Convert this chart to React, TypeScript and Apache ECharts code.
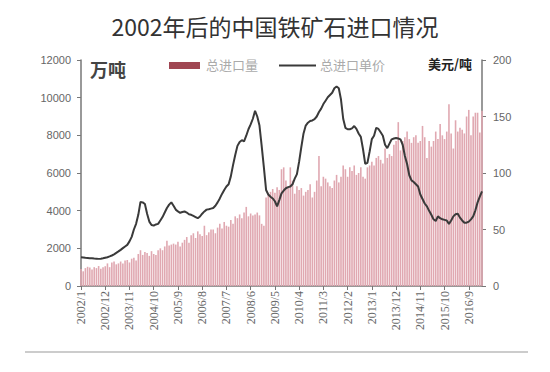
import React, { useEffect, useRef } from "react";
import * as echarts from "echarts";

const startYear = 2002;
const endYear = 2017;
const endMonth = 3;
const categories: string[] = [];
for (let y = startYear; y <= endYear; y++) {
  for (let m = 1; m <= 12; m++) {
    if (y === endYear && m > endMonth) break;
    categories.push(`${y}/${m}`);
  }
}

// 总进口量 (万吨), monthly 2002/1 - 2017/3
const imports2002 = [900, 780, 950, 1020, 980, 880, 1000, 950, 1060, 920, 1000, 1050];
const imports2003 = [1200, 1000, 1250, 1300, 1150, 1200, 1300, 1200, 1350, 1380, 1250, 1450];
const imports2004 = [1500, 1350, 1700, 1900, 1650, 1800, 1750, 1600, 1850, 1700, 1650, 1900];
const imports2005 = [2000, 1900, 2100, 2400, 2150, 2200, 2250, 2200, 2350, 2100, 2300, 2450];
const imports2006 = [2600, 2300, 2700, 2800, 2550, 2900, 2750, 2650, 3200, 2700, 2850, 3000];
const imports2007 = [3000, 2800, 3100, 3300, 3050, 3400, 3200, 3150, 3500, 3300, 3700, 3600];
const imports2008 = [3800, 3600, 3900, 4200, 3700, 3850, 3750, 3800, 3900, 3750, 3300, 3200];
const imports2009 = [4700, 4900, 5000, 5150, 4950, 5250, 5100, 6200, 6300, 5600, 5200, 6300];
const imports2010 = [5600, 4900, 5300, 5100, 5200, 4800, 5000, 5100, 5400, 4700, 5000, 5600];
const imports2011 = [6900, 5300, 5800, 5700, 5500, 5300, 5200, 5600, 5900, 5500, 5800, 6400];
const imports2012 = [6200, 5800, 6300, 6100, 6400, 5900, 6000, 6300, 5800, 5700, 6300, 6400];
const imports2013 = [6600, 6400, 6800, 6900, 6700, 6500, 7300, 6800, 7000, 6900, 7500, 7700];
const imports2014 = [8700, 7200, 7700, 7900, 8200, 7800, 7600, 7900, 8000, 7600, 7700, 8500];
const imports2015 = [7900, 6800, 7700, 7400, 7700, 8200, 7800, 8600, 8000, 7800, 8200, 9650];
const imports2016 = [8100, 7300, 8800, 8200, 8400, 8300, 8100, 9000, 9350, 8000, 9000, 9200];
const imports2017 = [9200, 8150, 9300];

// 总进口单价 (美元/吨)
const price2002 = [25.5, 25.3, 25, 24.8, 24.6, 24.5, 24.3, 24.2, 24, 24.2, 24.5, 25];
const price2003 = [25.5, 26.2, 27, 28, 29.3, 30.6, 32, 33.5, 35, 36.4, 39.5, 43.5];
const price2004 = [50, 55, 63, 74.4, 74, 72.5, 64, 57, 54, 53.5, 54.5, 55];
const price2005 = [58, 61, 65, 69, 72, 74, 71, 67.6, 66, 64.8, 65.5, 66];
const price2006 = [65, 63.5, 63, 62, 61, 60, 61.5, 64, 66, 67.6, 68, 68.5];
const price2007 = [69, 71, 74, 77.5, 81.5, 85, 88, 90, 97, 107, 116, 124];
const price2008 = [127.5, 129, 128, 133, 138.7, 143, 148, 155, 150, 142, 124, 105];
const price2009 = [85, 81, 79, 77.5, 75, 70.5, 76, 82, 84.5, 86.5, 87.5, 88];
const price2010 = [90, 95, 99, 110, 123, 135, 142, 144.5, 146, 146.5, 147.6, 150];
const price2011 = [154, 157, 161, 164, 167, 169, 171, 175, 176.6, 175, 165, 148];
const price2012 = [140, 138.7, 138.7, 139.5, 141.6, 139, 135, 132, 121, 108, 109, 119];
const price2013 = [130, 133, 140, 139, 136, 133, 125, 122, 126, 129.8, 130.5, 131];
const price2014 = [130.5, 129.8, 125, 115, 108, 98, 93.5, 92, 90, 88, 81, 77];
const price2015 = [73, 70.5, 66.5, 63, 59, 57.5, 61.6, 60, 59, 58.5, 58, 55];
const price2016 = [58, 61.6, 63.5, 64, 60.5, 58, 56, 56, 57, 59, 61.6, 67];
const price2017 = [74, 79, 83.8];

const importVolume = [
  ...imports2002, ...imports2003, ...imports2004, ...imports2005, ...imports2006,
  ...imports2007, ...imports2008, ...imports2009, ...imports2010, ...imports2011,
  ...imports2012, ...imports2013, ...imports2014, ...imports2015, ...imports2016,
  ...imports2017,
];
const importPrice = [
  ...price2002, ...price2003, ...price2004, ...price2005, ...price2006,
  ...price2007, ...price2008, ...price2009, ...price2010, ...price2011,
  ...price2012, ...price2013, ...price2014, ...price2015, ...price2016,
  ...price2017,
];

const leftTicks = { min: 0, max: 12000, interval: 2000 };
const rightTicks = { min: 0, max: 200, interval: 50 };
const seriesNames = ["总进口量", "总进口单价"];

export default function App() {
  const ref = useRef<HTMLDivElement>(null);
  useEffect(() => {
    if (!ref.current) return;
    const chart = echarts.init(ref.current, undefined, { renderer: "svg" });
    const axisColor = "#777";
    const barColor = "#e0a8b1";
    const lineColor = "#3a3a3a";
    chart.setOption({
      animation: false,
      backgroundColor: "#fff",
      title: {
        text: "2002年后的中国铁矿石进口情况",
        left: "center",
        top: 9,
        textStyle: {
          fontFamily: "Noto Sans CJK SC",
          fontSize: 23,
          fontWeight: "normal",
          color: "#333",
        },
      },
      grid: { left: 81, right: 68, top: 60, bottom: 86 },
      xAxis: {
        type: "category",
        data: categories,
        boundaryGap: false,
        axisLine: { lineStyle: { color: axisColor, width: 1.5 } },
        axisTick: { interval: 10, length: 4, lineStyle: { color: axisColor } },
        axisLabel: {
          interval: 10,
          rotate: 90,
          color: "#666",
          fontSize: 12,
          fontFamily: "Liberation Serif",
          margin: 5,
        },
        splitLine: { show: false },
      },
      yAxis: [
        {
          type: "value",
          ...leftTicks,
          axisLine: { show: true, lineStyle: { color: axisColor, width: 1.5 } },
          axisTick: { show: true, length: 4, lineStyle: { color: axisColor } },
          axisLabel: {
            color: "#666",
            fontSize: 11,
            fontFamily: "Liberation Sans",
            margin: 10,
            formatter: (v: number) => String(v),
          },
          splitLine: { show: false },
        },
        {
          type: "value",
          ...rightTicks,
          position: "right",
          axisLine: { show: true, lineStyle: { color: axisColor, width: 1.5 } },
          axisTick: { show: true, length: 4, lineStyle: { color: axisColor } },
          axisLabel: {
            color: "#666",
            fontSize: 11,
            fontFamily: "Liberation Sans",
            margin: 11,
            formatter: (v: number) => String(v),
          },
          splitLine: { show: false },
        },
      ],
      series: [
        {
          name: seriesNames[0],
          type: "bar",
          yAxisIndex: 0,
          data: importVolume,
          barWidth: 1.6,
          itemStyle: { color: barColor },
        },
        {
          name: seriesNames[1],
          type: "line",
          yAxisIndex: 1,
          data: importPrice,
          symbol: "none",
          lineStyle: { color: lineColor, width: 2 },
          itemStyle: { color: lineColor },
        },
      ],
      graphic: [
        {
          type: "text",
          left: 90,
          top: 60,
          style: {
            text: "万吨",
            fill: "#444",
            font: "bold 18px 'Noto Sans CJK SC'",
          },
        },
        {
          type: "rect",
          shape: { x: 169, y: 62, width: 31, height: 7 },
          style: { fill: "#a04652" },
        },
        {
          type: "text",
          left: 206,
          top: 58,
          style: {
            text: seriesNames[0],
            fill: "#aaa",
            font: "13px 'Noto Sans CJK SC'",
          },
        },
        {
          type: "line",
          shape: { x1: 279, y1: 65.5, x2: 316, y2: 65.5 },
          style: { stroke: lineColor, lineWidth: 2 },
        },
        {
          type: "text",
          left: 320,
          top: 58,
          style: {
            text: seriesNames[1],
            fill: "#aaa",
            font: "13px 'Noto Sans CJK SC'",
          },
        },
        {
          type: "text",
          left: 428,
          top: 57,
          style: {
            text: "美元/吨",
            fill: "#222",
            font: "bold 13px 'Noto Sans CJK SC'",
          },
        },
        {
          type: "line",
          shape: { x1: 25, y1: 352, x2: 528, y2: 352 },
          style: { stroke: "#999", lineWidth: 1 },
        },
      ],
    });
    return () => chart.dispose();
  }, []);
  return (
    <div
      ref={ref}
      style={{ position: "fixed", left: 0, top: 0, width: 550, height: 372 }}
    />
  );
}
